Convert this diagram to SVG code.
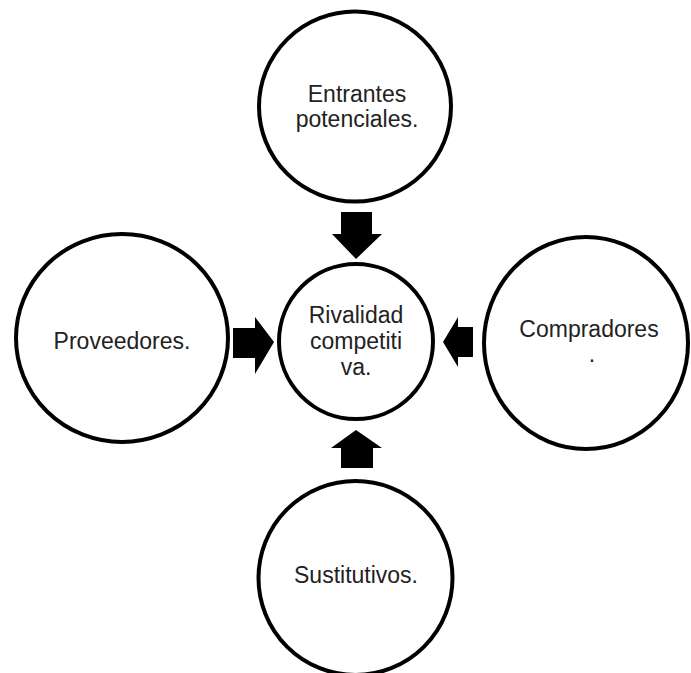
<svg xmlns="http://www.w3.org/2000/svg" width="691" height="673" viewBox="0 0 691 673">
<style>
.n{fill:#fff;stroke:#000;stroke-width:4}
.t{font-family:"Liberation Sans",Arial,sans-serif;font-size:23px;fill:#222;text-anchor:middle}
.a{fill:#000}
</style>
<rect width="691" height="673" fill="#fff"/>
<g id="entrantes">
<ellipse class="n" cx="355" cy="106.5" rx="96" ry="95"/>
<text class="t" x="357" y="102">Entrantes</text>
<text class="t" x="357" y="127">potenciales.</text>
</g>
<g id="rivalidad">
<ellipse class="n" cx="356" cy="341.5" rx="77" ry="77.5"/>
<text class="t" x="356" y="323">Rivalidad</text>
<text class="t" x="356" y="349">competiti</text>
<text class="t" x="356" y="375">va.</text>
</g>
<g id="proveedores">
<ellipse class="n" cx="122" cy="338" rx="106" ry="104"/>
<text class="t" x="122" y="349">Proveedores.</text>
</g>
<g id="compradores">
<ellipse class="n" cx="586" cy="343" rx="102" ry="106"/>
<text class="t" x="589" y="337">Compradores</text>
<text class="t" x="592" y="362">.</text>
</g>
<g id="sustitutivos">
<ellipse class="n" cx="355.5" cy="578" rx="97" ry="97"/>
<text class="t" x="356" y="583">Sustitutivos.</text>
</g>
<g id="connectors">
<polygon class="a" points="341,212 372,212 372,234 382,234 356,259 332,234 341,234"/>
<polygon class="a" points="356,430 382,448 373,448 373,468 341,468 341,448 331,448"/>
<polygon class="a" points="233,328 255,328 255,317 274,342 255,374 255,358 233,358"/>
<polygon class="a" points="473,327 458,327 458,317 443,342 458,367 458,357 473,357"/>
</g>
</svg>
